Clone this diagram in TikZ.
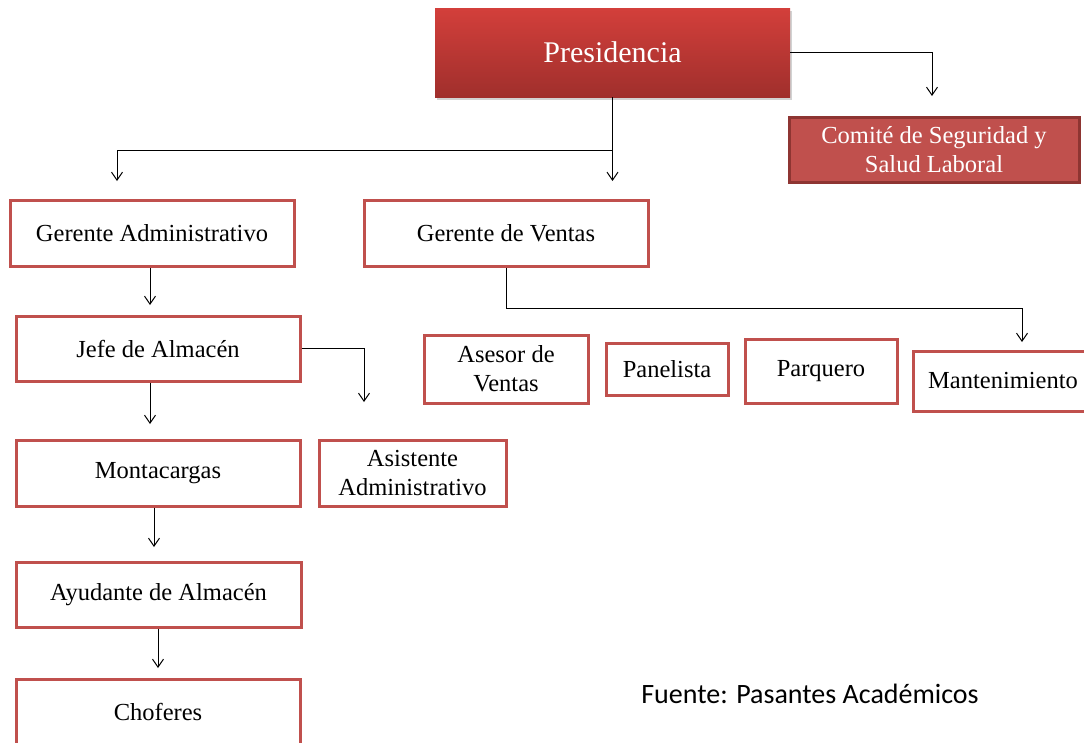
\documentclass[tikz,border=0pt]{standalone}
\usepackage{fontspec}
\setmainfont{Liberation Serif}
\newfontfamily\fuentefont{Carlito}
\usetikzlibrary{arrows.meta,shadows}
\definecolor{boxred}{HTML}{C0504D}
\definecolor{presTop}{HTML}{D33F3B}
\definecolor{presBot}{HTML}{A02F2C}
\definecolor{comBorder}{HTML}{8E3532}
\newcommand\boxfont{\fontsize{24.5}{29}\selectfont}
\tikzset{
  box/.style={draw=boxred, line width=3pt, fill=white, inner sep=0pt, align=center, font=\boxfont, text=black},
  arr/.style={-{Straight Barb[length=8pt,width=11pt]}, line width=1pt, draw=black},
}
\begin{document}
\begin{tikzpicture}[x=1pt,y=-1pt]
\useasboundingbox (0,0) rectangle (1084,742);
\fill[white] (0,0) rectangle (1084,742);
\clip (0,0) rectangle (1084,742);

\node[inner sep=0pt, minimum width=355pt, minimum height=89pt, top color=presTop, bottom color=presBot, draw=none,
  drop shadow={shadow xshift=1.5pt, shadow yshift=-2.5pt, opacity=0.35},
  text=white, font=\fontsize{30}{36}\selectfont] (pres) at (612.5,52.5) {Presidencia};

\node[inner sep=0pt, minimum width=290pt, minimum height=65pt, fill=boxred, draw=comBorder, line width=3pt,
  text=white, align=center, font=\boxfont] (com) at (934,149.5) {Comité de Seguridad y\\Salud Laboral};

\node[box, minimum width=284pt, minimum height=66pt] (ga) at (152,233) {Gerente Administrativo};
\node[box, minimum width=284pt, minimum height=66pt] (gv) at (506,233) {Gerente de Ventas};
\node[box, minimum width=284pt, minimum height=65pt] (jefe) at (158,348.5) {Jefe de Almacén};
\node[box, minimum width=284pt, minimum height=66pt] (mont) at (158,473) {Montacargas};
\node[box, minimum width=187pt, minimum height=66pt] (asis) at (412.5,473) {Asistente\\Administrativo};
\node[box, minimum width=285pt, minimum height=65pt] (ayud) at (158.5,594.5) {Ayudante de Almacén};
\node[box, minimum width=284pt, minimum height=66pt] (chof) at (158,712) {Choferes};

\node[box, minimum width=164pt, minimum height=68pt] (ases) at (506,369) {Asesor de\\Ventas};
\node[box, minimum width=122pt, minimum height=52pt] (pane) at (667,369) {Panelista};
\node[box, minimum width=152pt, minimum height=64pt] (parq) at (821,371) {Parquero};
\node[box, minimum width=180pt, minimum height=60pt] (mant) at (1003,381) {Mantenimiento};

\node[font=\fuentefont\fontsize{28}{32}\selectfont, inner sep=0pt, anchor=base] (fuente) at (810,703) {Fuente: Pasantes Académicos};

% connectors
\coordinate (cgv) at (612.5,181);
\coordinate (cga) at (117,181);
\coordinate (jn) at (612.5,150);
\coordinate (ccom) at (932,96);
\coordinate (a2) at (150,305);
\coordinate (a3) at (364,402);
\coordinate (a4) at (150,424);
\coordinate (a5) at (154,547);
\coordinate (a6) at (158,668);
\coordinate (a7) at (1022,342);
\coordinate (a7h) at (506,308);

\draw[arr] (pres.south) -- (cgv);
\draw[arr] (jn) -| (cga);
\draw[arr] (pres.east) -| (ccom);
\draw[arr] (a2 |- ga.south) -- (a2);
\draw[arr] (jefe.east) -| (a3);
\draw[arr] (a4 |- jefe.south) -- (a4);
\draw[arr] (a5 |- mont.south) -- (a5);
\draw[arr] (a6 |- ayud.south) -- (a6);
\draw[arr] (gv.south) -- (a7h) -| (a7);
\end{tikzpicture}
\end{document}
